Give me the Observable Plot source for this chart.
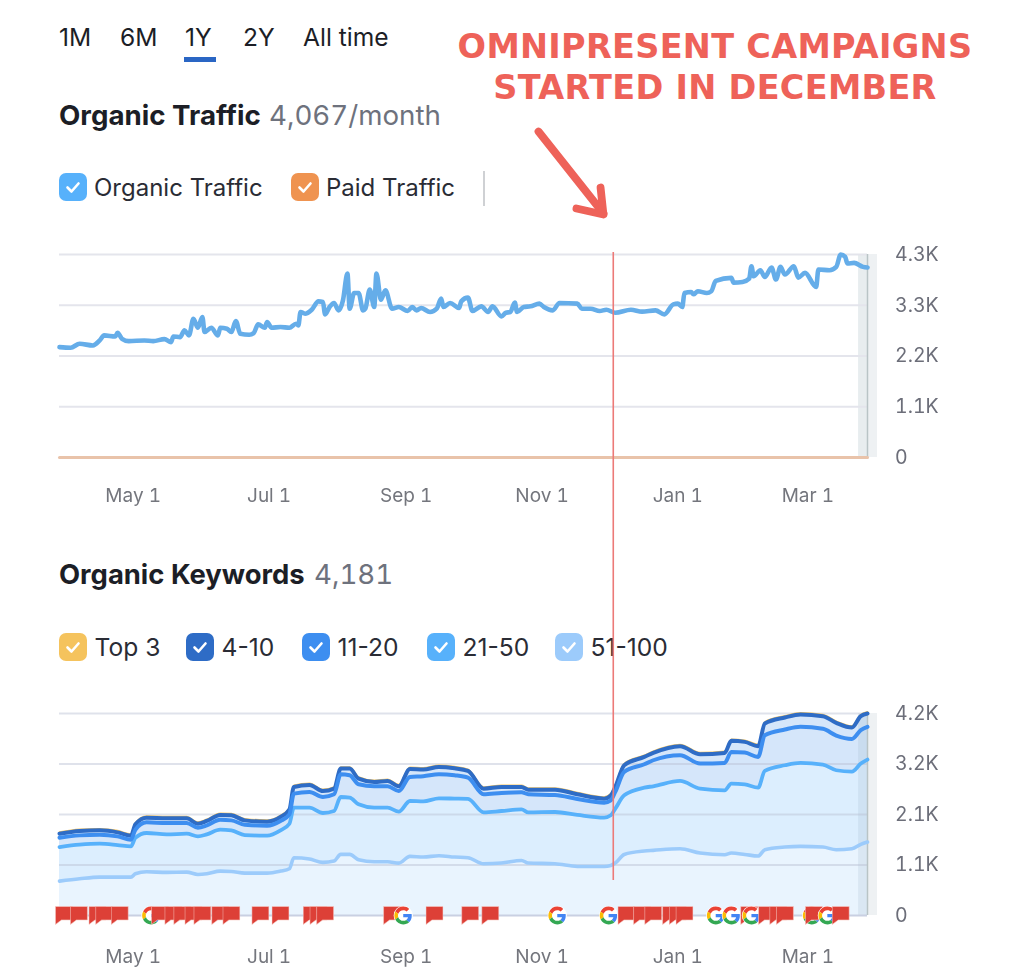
<!DOCTYPE html>
<html><head><meta charset="utf-8">
<script src="https://cdn.jsdelivr.net/npm/d3@7"></script>
<script src="https://cdn.jsdelivr.net/npm/@observablehq/plot@0.6"></script>
<style>
html,body{margin:0;padding:0;background:#fff}
#page{position:relative;width:1024px;height:979px;overflow:hidden;font-family:Inter,sans-serif;color:#1c1e26}
#page>svg{position:absolute;left:0;overflow:visible;filter:blur(.45px)}
.t{position:absolute;white-space:nowrap;line-height:1}
.box{position:absolute;width:28px;height:28px;border-radius:7px}
.box svg{position:absolute;left:0;top:0}
</style></head><body><div id="page"></div>
<script>
// x positions are days since the chart's first sample (late March)
const tickDays = [33, 93.9, 155.3, 216.2, 277, 335.3];
const tickLabels = ["May 1", "Jul 1", "Sep 1", "Nov 1", "Jan 1", "Mar 1"];
const lastDay = 362;
const campaignDay = 248.1;

const trafficTicks = [4300, 3225, 2150, 1075, 0];
const trafficTickLabels = ["4.3K", "3.3K", "2.2K", "1.1K", "0"];
const keywordTicks = [4200, 3150, 2100, 1050, 0];
const keywordTickLabels = ["4.2K", "3.2K", "2.1K", "1.1K", "0"];

const trafficDays = [0,5,9,15,18,20,25,26,28,31,38,42,47,50,51,54,56,58,60,62,64,65,68,71,72,75,77,79,81,85,87,89,92,93,95,99,103,106,107,108,110,113,116,118,119,121,123,125,127,129,130,132,134,136,137,139,141,142,144,146,149,152,156,158,160,162,166,169,171,172,175,179,180,183,185,189,192,194,198,200,202,204,205,208,211,215,217,221,224,232,234,238,242,245,249,256,261,267,271,275,277,279,280,283,284,286,290,292,294,301,302,306,309,310,311,314,316,319,321,323,325,329,331,334,339,340,345,348,350,352,353,356,360,362];
const organicTraffic = [2338,2324,2409,2373,2479,2586,2564,2642,2515,2465,2479,2465,2508,2444,2564,2550,2692,2586,2940,2749,2975,2657,2749,2586,2749,2727,2657,2890,2621,2600,2635,2819,2749,2869,2749,2763,2749,2834,2798,3082,3046,3131,3308,3294,3032,3188,3273,3117,3329,3896,3152,3485,3485,3117,3152,3556,3188,3896,3344,3542,3152,3188,3103,3188,3117,3167,3082,3152,3365,3188,3273,3167,3308,3386,3103,3202,3082,3202,2989,3067,3082,3280,3082,3188,3202,3259,3188,3117,3273,3259,3152,3152,3103,3131,3067,3131,3089,3117,3032,3244,3259,3188,3485,3507,3457,3521,3485,3521,3740,3804,3705,3719,3790,4052,3839,3967,3825,4024,3769,4038,3875,4052,3811,3910,3613,3981,3967,4038,4300,4250,4109,4123,4038,4024];
const paidDays = [0, 362];
const paidTraffic = [0, 0];

const keywordDays = [0,9,18,26,32,34,39,48,57,62,66,72,77,83,93,99,103,105,112,118,123,126,130,134,141,147,152,157,163,170,177,183,190,198,207,210,222,232,244,247,249,253,262,266,278,287,298,301,307,313,316,325,332,342,348,355,359,362];
// cumulative levels, as the stacked chart shows them
const top3 = [1736,1791,1805,1764,1694,1930,2069,2055,2055,1944,2000,2125,2118,2013,1986,2083,2236,2708,2749,2624,2673,3089,3089,2881,2812,2833,2722,3083,3069,3124,3096,3041,2673,2708,2708,2652,2652,2555,2465,2534,2708,3159,3332,3416,3555,3388,3416,3666,3645,3555,4027,4152,4214,4179,4041,3943,4179,4235];
const kw4to10 = [1701,1756,1770,1729,1659,1895,2034,2020,2020,1909,1965,2090,2083,1978,1951,2048,2201,2673,2714,2589,2638,3054,3054,2846,2777,2798,2687,3048,3034,3089,3061,3006,2638,2673,2673,2617,2617,2520,2430,2499,2673,3124,3297,3381,3520,3353,3381,3631,3610,3520,3992,4117,4179,4144,4006,3908,4144,4200];
const kw11to20 = [1617,1666,1680,1645,1576,1784,1937,1923,1923,1826,1874,1992,1978,1888,1867,1965,2103,2534,2569,2464,2520,2936,2916,2728,2687,2687,2589,2881,2895,2936,2916,2867,2520,2548,2562,2520,2506,2423,2346,2395,2569,2985,3145,3228,3332,3159,3173,3402,3388,3297,3749,3867,3922,3881,3742,3672,3853,3922];
const kw21to50 = [1423,1472,1493,1465,1437,1617,1715,1687,1701,1645,1687,1784,1770,1673,1659,1770,1909,2242,2242,2131,2173,2464,2451,2312,2242,2242,2159,2381,2374,2437,2430,2423,2145,2173,2208,2145,2152,2090,2034,2083,2221,2499,2659,2687,2798,2638,2603,2742,2728,2659,3006,3124,3173,3138,3020,2992,3159,3242];
const kw51to100 = [715,764,798,798,798,868,909,896,902,854,868,923,916,882,882,923,972,1201,1173,1104,1132,1270,1270,1159,1118,1118,1090,1229,1215,1243,1215,1201,1076,1090,1145,1090,1076,1020,1020,1041,1090,1270,1340,1354,1388,1298,1263,1298,1270,1236,1368,1423,1437,1423,1368,1388,1479,1527];

const flagDays = [2,8.7,17,20,27,45,51,55,60,64,72,77,90,99,113,116,119,149,168,184,193,254,261,266,274,277,280,309,317,322,325,338,350];
const googleDays = [41,154,223,246,294,301,310,337,344];

const tabs = ["1M","6M","1Y","2Y","All time"];
const trafficLegend = ["Organic Traffic","Paid Traffic"];
const keywordLegend = ["Top 3","4-10","11-20","21-50","51-100"];
const noteLines = ["OMNIPRESENT CAMPAIGNS","STARTED IN DECEMBER"];

// arrow drawn in the traffic chart's own units
const arrowParts = [
  {part:"shaft", day:214.6, v:6905},{part:"shaft", day:243.7, v:5168},
  {part:"head", day:242.4, v:5719},{part:"head", day:243.7, v:5147},{part:"head", day:231.6, v:5274}
];

const C = {ink:"#1c1e26", muted:"#6e727d", axis:"#6c6e79", grid:"#e4e5ec", red:"#ee6259",
  organic:"#65ade9", paid:"#e9c3aa", top3:"#f5c35d", k4:"#2e6cc6", k11:"#3d8ef0", k21:"#57b1fb", k51:"#9ccbfb", tab:"#2a66c4"};

const page = document.getElementById("page");
function text(s,x,cy,size,opts={}){
  const d=document.createElement("div");d.className="t";d.textContent=s;
  d.style.cssText+=`left:${x}px;top:${cy-size/2}px;font-size:${size}px;`;
  Object.assign(d.style,opts);page.appendChild(d);return d;
}
function box(x,cy,color){
  const d=document.createElement("div");d.className="box";
  d.style.left=x+"px";d.style.top=(cy-14)+"px";d.style.background=color;
  d.innerHTML='<svg width="28" height="28"><polyline points="8.5,14.5 12.5,18.5 19.5,10.5" fill="none" stroke="#fff" stroke-width="2.6" stroke-linecap="round" stroke-linejoin="round"/></svg>';
  page.appendChild(d);
}
[59,120,185,243,303].forEach((x,i)=>text(tabs[i],x,37,24.6));
const ul=document.createElement("div");ul.style.cssText=`position:absolute;left:184px;top:57px;width:32px;height:5px;background:${C.tab}`;page.appendChild(ul);

const tnum={fontVariantNumeric:"tabular-nums",fontFeatureSettings:'"tnum"'};
text("Organic Traffic",59,116,27.7,{fontWeight:"700"});
text("4,067/month",269,116,27.7,{color:C.muted,...tnum});
box(59,187,C.k21);text(trafficLegend[0],94,188,24,{color:"#2a2c35"});
box(291,187,"#ef9350");text(trafficLegend[1],326,188,24,{color:"#2a2c35"});
const dv=document.createElement("div");dv.style.cssText="position:absolute;left:483px;top:171px;width:1.5px;height:35px;background:#cfd1d4";page.appendChild(dv);

text("Organic Keywords",59,575,27.4,{fontWeight:"700"});
text("4,181",314,575,27.7,{color:C.muted,...tnum});
const kwColors=[C.top3,C.k4,C.k11,C.k21,C.k51];
[59,186,302,427,555].forEach((x,i)=>{box(x,647,kwColors[i]);text(keywordLegend[i],x+35.5,647,24.6,{color:"#2a2c35"});});

noteLines.forEach((s,i)=>{
  text(s,715,[47,87.5][i],33.5,{fontFamily:"'DejaVu Sans',sans-serif",fontWeight:"700",color:C.red,letterSpacing:"0.3px",transform:"translateX(-50%)"});
});

const common = {width:1024, marginLeft:59, marginRight:157,
  x:{type:"linear",domain:[0,lastDay]},
  style:{background:"transparent",fontFamily:"Inter,sans-serif",overflow:"visible"}};

function lookup(values,labels){return v=>labels[values.indexOf(v)];}
function axes(ticks,labels,pad){return [
  Plot.axisX({ticks:tickDays,tickFormat:lookup(tickDays,tickLabels),tickSize:0,tickPadding:pad,fontSize:19,color:"#74767d",label:null,anchor:"bottom"}),
  Plot.axisY({anchor:"right",ticks,tickFormat:lookup(ticks,labels),tickSize:0,tickPadding:27.5,fontSize:19.5,color:C.axis,label:null})
];}
const band = (top)=>[
  Plot.rectY([{a:lastDay,b:366.5}],{x1:"a",x2:"b",y1:0,y2:top,fill:"#eef1f3"}),
];

// traffic chart
const trafficRows = trafficDays.map((day,i)=>({day,v:organicTraffic[i]}));
const paidRows = paidDays.map((day,i)=>({day,v:paidTraffic[i]}));
const A = Plot.plot({...common, height:530, marginTop:254, marginBottom:73,
  y:{domain:[0,4300]},
  marks:[
    ...band(4300),
    Plot.rectY([{a:358,b:lastDay}],{x1:"a",x2:"b",y1:0,y2:4300,fill:"#e8edef"}),
    Plot.ruleY(trafficTicks.slice(0,-1),{stroke:C.grid,strokeWidth:2}),
    Plot.ruleX([lastDay],{y1:0,y2:4300,stroke:"#b9c4c6",strokeWidth:1.5}),
    Plot.line(trafficRows,{x:"day",y:"v",stroke:C.organic,strokeWidth:4.6,curve:"monotone-x",strokeLinejoin:"round",strokeLinecap:"round"}),
    Plot.line(paidRows,{x:"day",y:"v",stroke:C.paid,strokeWidth:3}),
    Plot.ruleX([{day:campaignDay,from:4340,to:-1546}],{x:"day",y1:"from",y2:"to",stroke:"#ec7a78",strokeWidth:1.6}),
    Plot.line(arrowParts,{x:"day",y:"v",z:"part",stroke:C.red,strokeWidth:7.8,strokeLinecap:"round",strokeLinejoin:"round"}),
    ...axes(trafficTicks,trafficTickLabels,31)
  ]});
A.style.top="0px";page.appendChild(A);

// keyword chart
const kwRows = keywordDays.map((day,i)=>({day,t3:top3[i],k4:kw4to10[i],k11:kw11to20[i],k21:kw21to50[i],k51:kw51to100[i]}));
const flagSvg = "data:image/svg+xml;utf8,"+encodeURIComponent('<svg xmlns="http://www.w3.org/2000/svg" viewBox="0 0 18 19"><path d="M.5.5H17.5V14H6.5L.5 18.5Z" fill="#dd4037" stroke="#f6c9c4" stroke-width=".6"/></svg>');
const gSvg = "data:image/svg+xml;utf8,"+encodeURIComponent('<svg xmlns="http://www.w3.org/2000/svg" viewBox="-3 -3 54 54"><circle cx="24" cy="24" r="26" fill="#fff"/><path fill="#EA4335" d="M24 9.5c3.54 0 6.71 1.22 9.21 3.6l6.85-6.85C35.9 2.38 30.47 0 24 0 14.62 0 6.51 5.38 2.56 13.22l7.98 6.19C12.43 13.72 17.74 9.5 24 9.5z"/><path fill="#4285F4" d="M46.98 24.55c0-1.57-.15-3.09-.38-4.55H24v9.02h12.94c-.58 2.96-2.26 5.48-4.78 7.18l7.73 6c4.51-4.18 7.09-10.36 7.09-17.65z"/><path fill="#FBBC05" d="M10.53 28.59c-.48-1.45-.76-2.99-.76-4.59s.27-3.14.76-4.59l-7.98-6.19C.92 16.46 0 20.12 0 24c0 3.88.92 7.54 2.56 10.78l7.97-6.19z"/><path fill="#34A853" d="M24 48c6.48 0 11.93-2.13 15.89-5.81l-7.73-6c-2.15 1.45-4.92 2.3-8.16 2.3-6.26 0-11.57-4.22-13.47-9.91l-7.98 6.19C6.51 42.62 14.62 48 24 48z"/></svg>');
const events = [...flagDays.map(day=>({day,src:flagSvg,kind:"flag"})),...googleDays.map(day=>({day,src:gSvg,kind:"g"}))].sort((a,b)=>a.day-b.day);
const kwCurve = {x:"day",curve:"monotone-x"};
const kwLine = (y,stroke,w)=>Plot.line(kwRows,{...kwCurve,y,stroke,strokeWidth:w,strokeLinejoin:"round"});
const kwArea = (y1,y2,fill)=>Plot.areaY(kwRows,{...kwCurve,y1,y2,fill});
const B = Plot.plot({...common, height:449, marginTop:183, marginBottom:64,
  y:{domain:[0,4200]},
  marks:[
    ...band(4200),
    kwArea(()=>0,"k51","#e9f4fe"),
    kwArea("k51","k21","#dceefe"),
    kwArea("k21","k4","#d5e6fa"),
    Plot.rectY([{a:358,b:lastDay}],{x1:"a",x2:"b",y1:0,y2:4200,fill:"#8fa7b8",fillOpacity:0.16}),
    Plot.ruleY(keywordTicks.slice(0,-1),{stroke:"#b9bfd2",strokeOpacity:0.45,strokeWidth:2}),
    Plot.ruleY([0],{stroke:"#c9d0e2",strokeWidth:2}),
    Plot.ruleX([lastDay],{y1:0,y2:4200,stroke:"#b9c4c6",strokeWidth:1.5}),
    kwLine("k51",C.k51,3.6),
    kwLine("k21",C.k21,3.8),
    kwLine("t3",C.top3,1.6),
    kwLine("k4",C.k4,4),
    kwLine("k11",C.k11,4),
    Plot.ruleX([{day:campaignDay,from:8005,to:728}],{x:"day",y1:"from",y2:"to",stroke:"#ec7a78",strokeWidth:1.6}),
    Plot.image(events,{x:"day",y:()=>0,src:"src",width:d=>d.kind==="g"?20:18,height:d=>d.kind==="g"?20:19,preserveAspectRatio:"none"}),
    ...axes(keywordTicks,keywordTickLabels,34)
  ]});
B.style.top="530px";page.appendChild(B);
</script></body></html>
